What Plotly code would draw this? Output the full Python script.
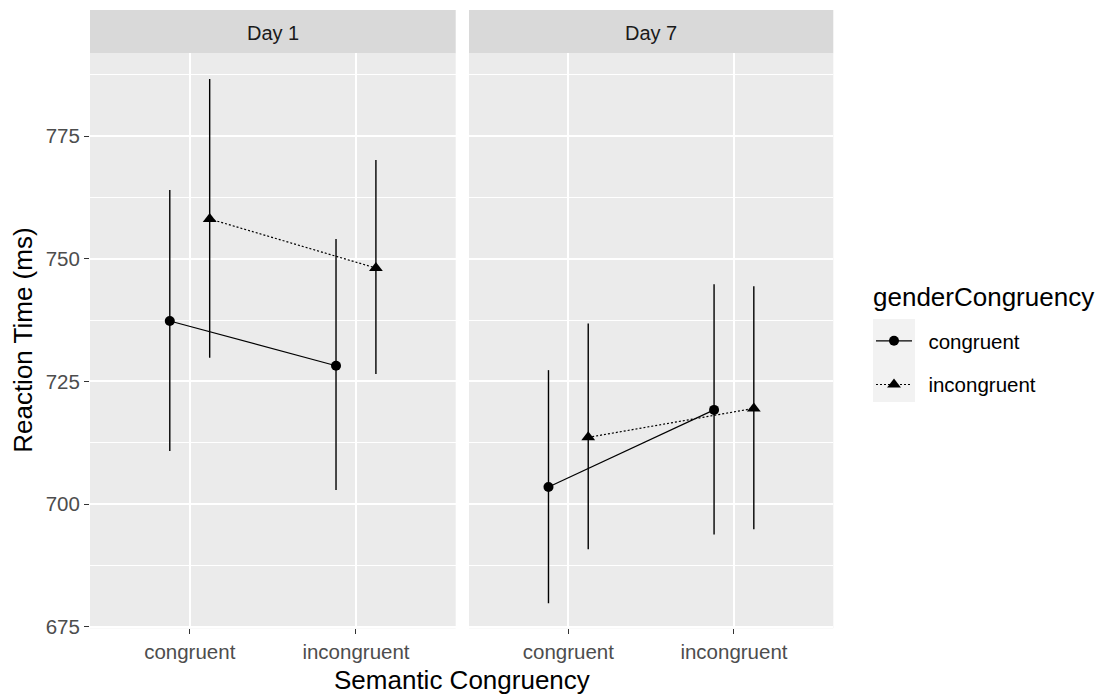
import plotly.graph_objects as go

categories = ["congruent", "incongruent"]
days = ["Day 1", "Day 7"]
groups = ["congruent", "incongruent"]

# mean reaction time and interval bounds per day / gender group (x = semantic congruency)
day1_congruent_mean = [737.3, 728.2]
day1_congruent_low = [710.8, 702.9]
day1_congruent_high = [764.0, 754.0]
day1_incongruent_mean = [758.1, 748.1]
day1_incongruent_low = [729.8, 726.5]
day1_incongruent_high = [786.6, 770.1]

day7_congruent_mean = [703.5, 719.2]
day7_congruent_low = [679.8, 693.8]
day7_congruent_high = [727.3, 744.8]
day7_incongruent_mean = [713.6, 719.5]
day7_incongruent_low = [690.8, 694.9]
day7_incongruent_high = [736.8, 744.4]

y_ticks = [675, 700, 725, 750, 775]

data = {
    ("Day 1", "congruent"): (day1_congruent_mean, day1_congruent_low, day1_congruent_high),
    ("Day 1", "incongruent"): (day1_incongruent_mean, day1_incongruent_low, day1_incongruent_high),
    ("Day 7", "congruent"): (day7_congruent_mean, day7_congruent_low, day7_congruent_high),
    ("Day 7", "incongruent"): (day7_incongruent_mean, day7_incongruent_low, day7_incongruent_high),
}

W, H = 1100, 696
def px_x(p):
    return p / W
def px_y(p):
    return 1 - p / H

FONT = "Liberation Sans, Arial"
panel_x = [(90, 455.7), (469, 833.3)]
panel_top, panel_bot = 53.3, 628.3
strip_top = 10

dodge = {"congruent": -0.12, "incongruent": 0.12}
style = {
    "congruent": dict(symbol="circle", size=10, dash="solid"),
    "incongruent": dict(symbol="triangle-up", size=12, dash="2px,2px"),
}

fig = go.Figure()
for di, day in enumerate(days):
    xa = "x" if di == 0 else "x2"
    ya = "y" if di == 0 else "y2"
    for g in groups:
        mean, low, high = data[(day, g)]
        xs = [i + 1 + dodge[g] for i in range(len(categories))]
        fig.add_trace(go.Scatter(
            x=xs, y=mean, xaxis=xa, yaxis=ya,
            mode="lines+markers",
            name="\u00a0\u00a0" + g, legendgroup=g, showlegend=(di == 0),
            line=dict(color="black", width=1.2, dash=style[g]["dash"]),
            marker=dict(color="black", symbol=style[g]["symbol"], size=style[g]["size"]),
            error_y=dict(type="data", symmetric=False,
                         array=[h - m for h, m in zip(high, mean)],
                         arrayminus=[m - l for m, l in zip(mean, low)],
                         width=0, thickness=1.4, color="black"),
        ))

y_range = [674.7, 791.85]
common_x = dict(range=[0.4, 2.6], tickmode="array", tickvals=[1, 2], ticktext=categories,
                showgrid=True, gridcolor="white", gridwidth=1.6, zeroline=False,
                ticks="outside", ticklen=5, tickcolor="#333333", tickwidth=1.1,
                tickfont=dict(family=FONT, size=20.5, color="#4D4D4D"),
                showline=False, automargin=False)
common_y = dict(range=y_range, tickmode="array", tickvals=y_ticks,
                showgrid=True, gridcolor="white", gridwidth=1.6, zeroline=False,
                minor=dict(dtick=12.5, tick0=675, showgrid=True, gridcolor="white", gridwidth=0.8),
                showline=False, automargin=False)

fig.update_layout(
    width=W, height=H,
    margin=dict(l=0, r=0, t=0, b=0),
    paper_bgcolor="white", plot_bgcolor="#EBEBEB",
    xaxis=dict(domain=[px_x(panel_x[0][0]), px_x(panel_x[0][1])], anchor="y", **common_x),
    xaxis2=dict(domain=[px_x(panel_x[1][0]), px_x(panel_x[1][1])], anchor="y2", **common_x),
    yaxis=dict(domain=[px_y(panel_bot), px_y(panel_top)], anchor="x",
               ticks="outside", ticklen=5, tickcolor="#333333", tickwidth=1.1,
               tickfont=dict(family=FONT, size=20.5, color="#4D4D4D"),
               **common_y),
    yaxis2=dict(domain=[px_y(panel_bot), px_y(panel_top)], anchor="x2", matches="y",
                showticklabels=False, ticks="", **common_y),
    showlegend=True,
    legend=dict(
        x=px_x(871), y=px_y(321), xanchor="left", yanchor="top",
        font=dict(family=FONT, size=20.5, color="black"),
        traceorder="grouped", tracegroupgap=14, itemwidth=36,
        bgcolor="rgba(0,0,0,0)",
    ),
)

# strips and strip text
for di, day in enumerate(days):
    x0, x1 = panel_x[di]
    fig.add_shape(type="rect", xref="paper", yref="paper",
                  x0=px_x(x0), x1=px_x(x1), y0=px_y(panel_top), y1=px_y(strip_top),
                  fillcolor="#D9D9D9", line=dict(width=0), layer="below")
    fig.add_annotation(xref="paper", yref="paper", x=px_x((x0 + x1) / 2), y=px_y(33),
                       text=day, showarrow=False, xanchor="center", yanchor="middle",
                       font=dict(family=FONT, size=20, color="#1A1A1A"))

# legend title and key background
fig.add_annotation(xref="paper", yref="paper", x=px_x(871), y=px_y(297),
                   text="genderCongruency", showarrow=False, xanchor="left", yanchor="middle",
                   font=dict(family=FONT, size=26, color="black"))
fig.add_shape(type="rect", xref="paper", yref="paper",
              x0=px_x(873), x1=px_x(915), y0=px_y(402), y1=px_y(319),
              fillcolor="#F2F2F2", line=dict(width=0), layer="below")

# axis titles
fig.add_annotation(xref="paper", yref="paper", x=px_x((panel_x[0][0] + panel_x[1][1]) / 2), y=px_y(680),
                   text="Semantic Congruency", showarrow=False, xanchor="center", yanchor="middle",
                   font=dict(family=FONT, size=26, color="black"))
fig.add_annotation(xref="paper", yref="paper", x=px_x(23), y=px_y((panel_top + panel_bot) / 2),
                   text="Reaction Time (ms)", showarrow=False, textangle=-90, xanchor="center", yanchor="middle",
                   font=dict(family=FONT, size=26, color="black"))

fig.write_html("out.html")
